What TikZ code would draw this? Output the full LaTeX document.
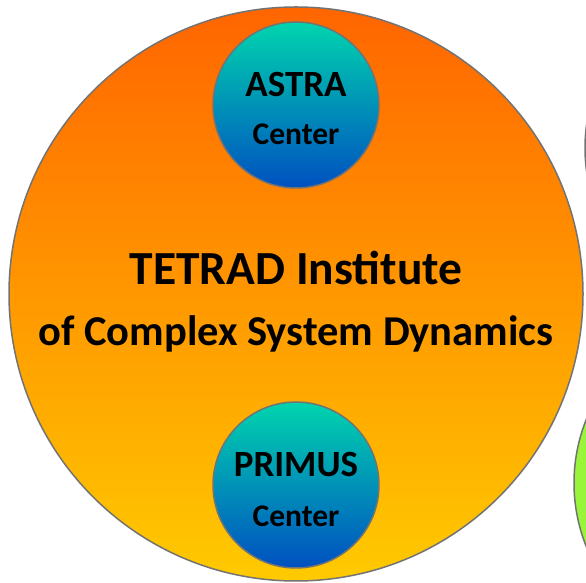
\documentclass[tikz,border=0pt]{standalone}
\usepackage{fontspec}
\setmainfont{Carlito}
\begin{document}
\begin{tikzpicture}[x=1pt,y=1pt,
  ring/.style={circle,draw=gray!90!black,line width=1.5pt,inner sep=0pt},
  bigring/.style={ring,minimum size=574pt,top color=orangeTop,bottom color=orangeBot},
  centerring/.style={ring,minimum size=166pt,top color=tealTop,bottom color=blueBot},
  sidering/.style={ring,minimum size=340pt},
  bigtext/.style={font=\fontsize{#1}{61}\selectfont\bfseries,inner sep=0pt,anchor=base},
  smalltitle/.style={font=\fontsize{37}{40}\selectfont\bfseries,inner sep=0pt,anchor=base},
  smallsub/.style={font=\fontsize{31.5}{34}\selectfont\bfseries,inner sep=0pt,anchor=base}
]
\definecolor{orangeTop}{HTML}{FF6500}
\definecolor{orangeBot}{HTML}{FFCA00}
\definecolor{tealTop}{HTML}{00D4AE}
\definecolor{blueBot}{HTML}{0050C0}
\definecolor{grayfill}{HTML}{E06060}
\definecolor{greenfill}{HTML}{99F53A}
\useasboundingbox (0,0) rectangle (586,583);
\clip (0,0) rectangle (586,583);
\node[sidering,fill=grayfill] (side1) at (755,435) {};
\node[sidering,fill=greenfill] (side2) at (744,100) {};
\node[bigring] (main) at (296,289) {};
\node[centerring] (astra) at (296,478) {};
\node[centerring] (primus) at (296,98) {};
\node[bigtext=47.5] (t1) at (296,298) {TETRAD Institute};
\node[bigtext=42.5] (t2) at (296,237) {of Complex System Dynamics};
\node[smalltitle] (a1) at (296,486) {ASTRA};
\node[smallsub] (a2) at (296,438) {Center};
\node[smalltitle] (p1) at (296,106) {PRIMUS};
\node[smallsub] (p2) at (296,56) {Center};
\end{tikzpicture}
\end{document}
